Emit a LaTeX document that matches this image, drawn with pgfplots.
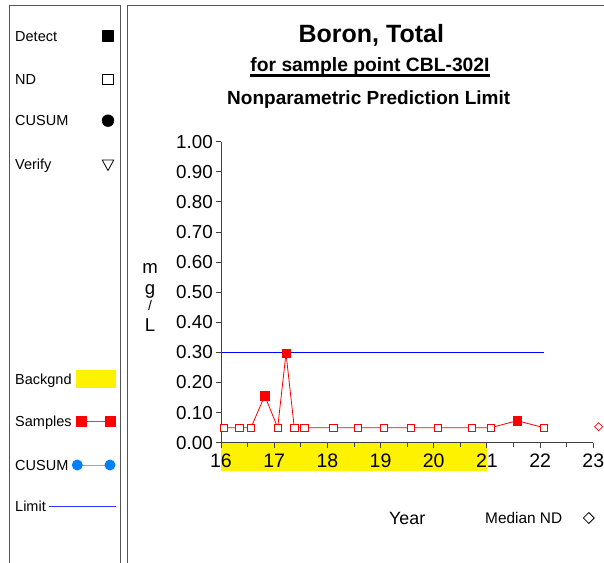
\documentclass[border=0pt]{standalone}
\usepackage{pgfplots}
\pgfplotsset{compat=1.18}
\usepackage{pgfplotstable}
\usepackage{fontspec}
\setmainfont{Liberation Sans}
\definecolor{cusumblue}{RGB}{0,128,255}
\definecolor{limitblue}{RGB}{0,0,255}
\definecolor{panelgray}{RGB}{85,85,85}
\newcommand{\fs}[1]{\fontsize{#1}{#1}\selectfont}

\pgfplotstableread{
x y
16.056 0.05
16.344 0.05
16.564 0.05
16.822 0.156
17.066 0.05
17.222 0.297
17.378 0.05
17.566 0.05
18.111 0.05
18.576 0.05
19.059 0.05
19.572 0.05
20.080 0.05
20.719 0.05
21.076 0.05
21.565 0.073
22.073 0.05
}\tsamp
\pgfplotstableread{
x y
16.056 0.05
16.344 0.05
16.564 0.05
17.066 0.05
17.378 0.05
17.566 0.05
18.111 0.05
18.576 0.05
19.059 0.05
19.572 0.05
20.080 0.05
20.719 0.05
21.076 0.05
22.073 0.05
}\tnd
\pgfplotstableread{
x y
16.822 0.156
17.222 0.297
21.565 0.073
}\tdet

\begin{document}
\begin{tikzpicture}
\useasboundingbox (0pt,0pt) rectangle (604pt,562pt);
\begin{scope}[x=1pt,y=1pt]
% panels
\draw[panelgray, line width=1.2pt] (9.5,-10) -- (9.5,556.3) -- (120.7,556.3) -- (120.7,-10);
\draw[panelgray, line width=1.2pt] (127.7,-10) -- (127.7,556.3) -- (610,556.3);
% legend panel
\begin{scope}[every node/.style={anchor=base west, inner sep=0pt, font=\fs{14.5}}]
\node at (15,520.8) {Detect};
\node at (15,477.8) {ND};
\node at (15,436.1) {CUSUM};
\node at (15,392.5) {Verify};
\node at (15,177.8) {Backgnd};
\node at (15,135.8) {Samples};
\node at (15,91.8) {CUSUM};
\node at (15,50.1) {Limit};
\end{scope}
\fill[black] (101.9,520.2) rectangle (113.5,531.8);
\draw[black, line width=0.8pt] (102.4,477.4) rectangle (113,488);
\fill[black] (108,441.3) circle (6.2);
\draw[black, line width=0.8pt] (102.2,402) -- (113.8,402) -- (108,391.5) -- cycle;
\fill[yellow] (76,174.3) rectangle (116,192);
\draw[red!80, line width=0.8pt] (81.6,140.7) -- (110.3,140.7);
\fill[red] (76,135) rectangle (87.3,146.3);
\fill[red] (104.7,135) rectangle (116,146.3);
\draw[cusumblue!60, line width=0.9pt] (77.3,97) -- (110,97);
\fill[cusumblue] (77.3,97) circle (5.5);
\fill[cusumblue] (110,97) circle (5.5);
\draw[limitblue!80, line width=0.8pt] (49.3,55.3) -- (116,55.3);
% titles
\node[anchor=base, inner sep=0pt, font=\bfseries\fs{25}] at (371.3,519.2) {Boron, Total};
\node[anchor=base, inner sep=0pt, font=\bfseries\fs{19.3}] (sub) at (370,490.3) {for sample point CBL-302I};
\draw[line width=2.2pt] ([yshift=-3.9pt]sub.base west) -- ([yshift=-3.9pt]sub.base east);
\node[anchor=base, inner sep=0pt, font=\bfseries\fs{19}] at (368.7,457.5) {Nonparametric Prediction Limit};
% y label
\begin{scope}[every node/.style={anchor=base, inner sep=0pt, font=\fs{18.6}}]
\node at (150,288.7) {m};
\node at (150,267.9) {g};
\node[font=\fs{14}] at (150,251.5) {/};
\node at (150,230.3) {L};
\end{scope}
% bottom texts
\node[anchor=base, inner sep=0pt, font=\fs{17.8}] at (407.2,38) {Year};
\node[anchor=base west, inner sep=0pt, font=\fs{15.4}] at (485,38.7) {Median ND};
\draw[black, line width=0.8pt] (588.8,49.4) -- (594.2,44) -- (588.8,38.6) -- (583.4,44) -- cycle;
\end{scope}

\begin{axis}[
  at={(221pt,119.3pt)}, anchor=south west,
  scale only axis, width=372.3pt, height=301pt,
  xmin=16, xmax=23, ymin=0, ymax=1,
  axis x line*=bottom, axis y line*=left,
  axis line style={black!75, line width=0.9pt},
  xtick={16,17,18,19,20,21,22,23},
  minor xtick={16.5,17.5,18.5,19.5,20.5,21.5,22.5},
  ytick={0,0.1,0.2,0.3,0.4,0.5,0.6,0.7,0.8,0.9,1.0},
  tick align=outside, major tick length=5pt, minor tick length=4pt,
  tick style={black!75, line width=0.9pt},
  clip=false,
  axis on top,
  /pgf/number format/assume math mode=true,
  xticklabel style={font=\fs{19.5}, inner sep=0pt, yshift=-6pt},
  yticklabel style={font=\fs{18.8}, inner sep=0pt, xshift=-3pt,
    /pgf/number format/.cd, fixed, fixed zerofill, precision=2},
]
\addplot[fill=yellow, draw=none] coordinates {(16,0) (21,0) (21,-0.094) (16,-0.094) (16,0)};
\addplot[limitblue, line width=1pt] coordinates {(16,0.30) (22.078,0.30)};
\addplot[red, line width=0.8pt, mark=none] table[x=x,y=y] {\tsamp};
\addplot[only marks, mark=square*, mark size=3.7pt, mark options={draw=red, fill=white, line width=0.7pt}] table[x=x,y=y] {\tnd};
\addplot[only marks, mark=square*, mark size=4.2pt, mark options={draw=red, fill=red}] table[x=x,y=y] {\tdet};
\addplot[only marks, mark=square, mark size=2.8pt, mark options={draw=red, rotate=45, line width=0.7pt}] coordinates {(23.10,0.053)};
\end{axis}
\end{tikzpicture}
\end{document}
